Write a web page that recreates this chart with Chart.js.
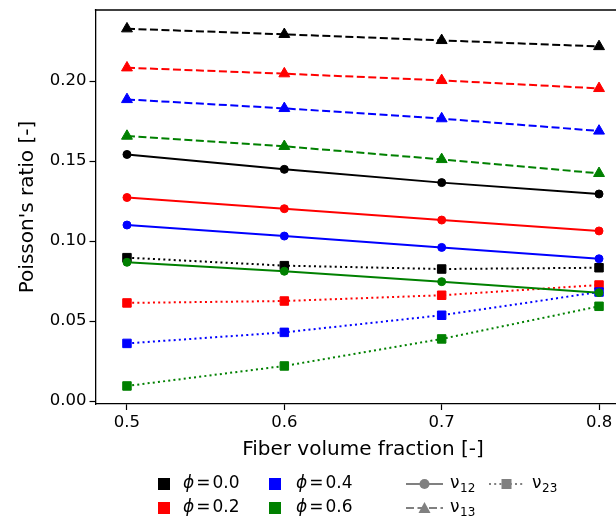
<!DOCTYPE html>
<html>
<head>
<meta charset="utf-8">
<script src="https://cdn.jsdelivr.net/npm/chart.js@4.4.1/dist/chart.umd.min.js"></script>
<style>
  html, body { margin: 0; padding: 0; background: #fff; overflow: hidden; }
  #wrap { width: 616px; height: 519px; overflow: hidden; position: relative; }
  canvas { display: block; }
</style>
</head>
<body>
<div id="wrap"><canvas id="c" width="640" height="519"></canvas></div>
<script>
// ---- data ----
const fiberFractions = [0.5, 0.6, 0.7, 0.8];
const phiLabels = ['0.0', '0.2', '0.4', '0.6'];
const phiColors = ['#000000', '#ff0000', '#0000ff', '#008000'];

const nu12Phi00 = [0.1541, 0.1448, 0.1365, 0.1294];
const nu12Phi02 = [0.1272, 0.1202, 0.1131, 0.1063];
const nu12Phi04 = [0.1100, 0.1031, 0.0960, 0.0889];
const nu12Phi06 = [0.0867, 0.0811, 0.0746, 0.0677];

const nu13Phi00 = [0.2327, 0.2292, 0.2254, 0.2216];
const nu13Phi02 = [0.2083, 0.2046, 0.2004, 0.1954];
const nu13Phi04 = [0.1885, 0.1829, 0.1765, 0.1688];
const nu13Phi06 = [0.1656, 0.1592, 0.1510, 0.1423];

const nu23Phi00 = [0.0896, 0.0846, 0.0825, 0.0833];
const nu23Phi02 = [0.0613, 0.0625, 0.0661, 0.0725];
const nu23Phi04 = [0.0360, 0.0429, 0.0536, 0.0681];
const nu23Phi06 = [0.0094, 0.0219, 0.0388, 0.0592];

const xTickValues = [0.5, 0.6, 0.7, 0.8];
const yTickValues = [0.00, 0.05, 0.10, 0.15, 0.20];

const nu12Series = [nu12Phi00, nu12Phi02, nu12Phi04, nu12Phi06];
const nu13Series = [nu13Phi00, nu13Phi02, nu13Phi04, nu13Phi06];
const nu23Series = [nu23Phi00, nu23Phi02, nu23Phi04, nu23Phi06];

// ---- styles ----
const FONT = "'DejaVu Sans', sans-serif";
const LW = 2;
const styleNu12 = { dash: [], pointStyle: 'circle', radius: 4 };
const styleNu13 = { dash: [8, 3.5], pointStyle: 'triangle', radius: 6.3 };
const styleNu23 = { dash: [2, 3.2], pointStyle: 'rect', radius: 6 };

function toPoints(vals) {
  return fiberFractions.map((x, i) => ({ x: x, y: vals[i] }));
}
function makeDs(vals, color, st, label) {
  return {
    label: label,
    data: toPoints(vals),
    borderColor: color,
    backgroundColor: color,
    borderWidth: LW,
    borderDash: st.dash,
    pointStyle: st.pointStyle,
    pointRadius: st.radius,
    pointHoverRadius: st.radius,
    pointBorderWidth: 1,
    pointBorderColor: color,
    pointBackgroundColor: color,
    tension: 0,
    fill: false
  };
}

// matplotlib order: for each phi -> nu12, nu13, nu23 ; later drawn on top
const drawOrder = [];
for (let i = 0; i < 4; i++) {
  drawOrder.push(makeDs(nu12Series[i], phiColors[i], styleNu12, 'nu12 phi=' + phiLabels[i]));
  drawOrder.push(makeDs(nu13Series[i], phiColors[i], styleNu13, 'nu13 phi=' + phiLabels[i]));
  drawOrder.push(makeDs(nu23Series[i], phiColors[i], styleNu23, 'nu23 phi=' + phiLabels[i]));
}
// Chart.js draws the first dataset on top -> reverse
const datasets = drawOrder.slice().reverse();

const legendPlugin = {
  id: 'mplLegend',
  afterDraw(chart) {
    const ctx = chart.ctx;
    const a = chart.chartArea;
    ctx.save();
    // top / right spines
    ctx.strokeStyle = '#000';
    ctx.lineWidth = 1.3;
    ctx.beginPath();
    ctx.moveTo(a.left - 0.65, a.top);
    ctx.lineTo(a.right, a.top);
    ctx.stroke();
    ctx.beginPath();
    ctx.moveTo(a.right, a.top);
    ctx.lineTo(a.right, a.bottom);
    ctx.stroke();

    const rows = [484, 508];
    const fs = 17;
    ctx.textBaseline = 'middle';
    ctx.textAlign = 'left';
    // phi entries
    const phiCols = [{ sq: 164, tx: 183 }, { sq: 275, tx: 296 }];
    for (let i = 0; i < 4; i++) {
      const col = phiCols[Math.floor(i / 2)];
      const y = rows[i % 2];
      ctx.fillStyle = phiColors[i];
      ctx.fillRect(col.sq - 6, y - 6, 12, 12);
      ctx.fillStyle = '#000';
      ctx.font = 'italic ' + fs + 'px ' + FONT;
      ctx.fillText('\u03d5', col.tx, y);
      let w = ctx.measureText('\u03d5').width;
      ctx.font = fs + 'px ' + FONT;
      ctx.fillText('=', col.tx + w + 2, y);
      const w2 = ctx.measureText('=').width;
      ctx.fillText(phiLabels[i], col.tx + w + w2 + 4, y);
    }
    // nu entries
    const gray = '#808080';
    const nuEntries = [
      { x0: 406, x1: 443, y: rows[0], st: styleNu12, sub: '12', tx: 450 },
      { x0: 406, x1: 443, y: rows[1], st: styleNu13, sub: '13', tx: 450 },
      { x0: 489, x1: 524, y: rows[0], st: styleNu23, sub: '23', tx: 532 }
    ];
    nuEntries.forEach(e => {
      ctx.strokeStyle = gray;
      ctx.fillStyle = gray;
      ctx.lineWidth = LW;
      ctx.setLineDash(e.st.dash);
      ctx.beginPath();
      ctx.moveTo(e.x0, e.y);
      ctx.lineTo(e.x1, e.y);
      ctx.stroke();
      ctx.setLineDash([]);
      const cx = (e.x0 + e.x1) / 2;
      if (e.st.pointStyle === 'circle') {
        ctx.beginPath(); ctx.arc(cx, e.y, 5, 0, Math.PI * 2); ctx.fill();
      } else if (e.st.pointStyle === 'rect') {
        ctx.fillRect(cx - 5, e.y - 5, 10, 10);
      } else {
        ctx.beginPath();
        ctx.moveTo(cx, e.y - 6);
        ctx.lineTo(cx - 6, e.y + 5);
        ctx.lineTo(cx + 6, e.y + 5);
        ctx.closePath(); ctx.fill();
      }
      ctx.fillStyle = '#000';
      ctx.font = fs + 'px ' + FONT;
      ctx.fillText('\u03bd', e.tx, e.y);
      const w = ctx.measureText('\u03bd').width;
      ctx.font = '12px ' + FONT;
      ctx.fillText(e.sub, e.tx + w + 0.5, e.y + 5);
    });
    ctx.restore();
  }
};

new Chart(document.getElementById('c'), {
  type: 'line',
  data: { datasets: datasets },
  options: {
    responsive: false,
    animation: false,
    devicePixelRatio: 1,
    layout: { padding: { top: 10, left: 0, right: 9.5, bottom: 55 } },
    plugins: { legend: { display: false }, tooltip: { enabled: false } },
    scales: {
      x: {
        type: 'linear',
        min: 0.48,
        max: 0.82,
        afterFit(s) { s.height = 60; s.paddingLeft = 0; s.paddingRight = 0; },
        afterBuildTicks(s) { s.ticks = xTickValues.map(v => ({ value: v })); },
        ticks: {
          color: '#000',
          font: { family: FONT, size: 16.5 },
          padding: 3,
          maxRotation: 0,
          autoSkip: false,
          callback: v => Number(v).toFixed(1)
        },
        grid: { drawOnChartArea: false, drawTicks: true, tickLength: 6, color: '#000', tickWidth: 1.2 },
        border: { display: true, color: '#000', width: 1.3 },
        title: {
          display: true,
          text: 'Fiber volume fraction [-]',
          color: '#000',
          font: { family: FONT, size: 20 },
          padding: { top: 0, bottom: 2 }
        }
      },
      y: {
        type: 'linear',
        min: -0.001875,
        max: 0.2444,
        afterFit(s) { s.width = 95.5; s.paddingTop = 0; s.paddingBottom = 0; },
        afterBuildTicks(s) { s.ticks = yTickValues.map(v => ({ value: v })); },
        ticks: {
          color: '#000',
          font: { family: FONT, size: 16.5 },
          padding: 3,
          autoSkip: false,
          callback: v => Number(v).toFixed(2)
        },
        grid: { drawOnChartArea: false, drawTicks: true, tickLength: 6, color: '#000', tickWidth: 1.2 },
        border: { display: true, color: '#000', width: 1.3 },
        title: {
          display: true,
          text: "Poisson's ratio [-]",
          color: '#000',
          font: { family: FONT, size: 20 },
          padding: { top: 16, bottom: 0 }
        }
      }
    }
  },
  plugins: [legendPlugin]
});
</script>
</body>
</html>
